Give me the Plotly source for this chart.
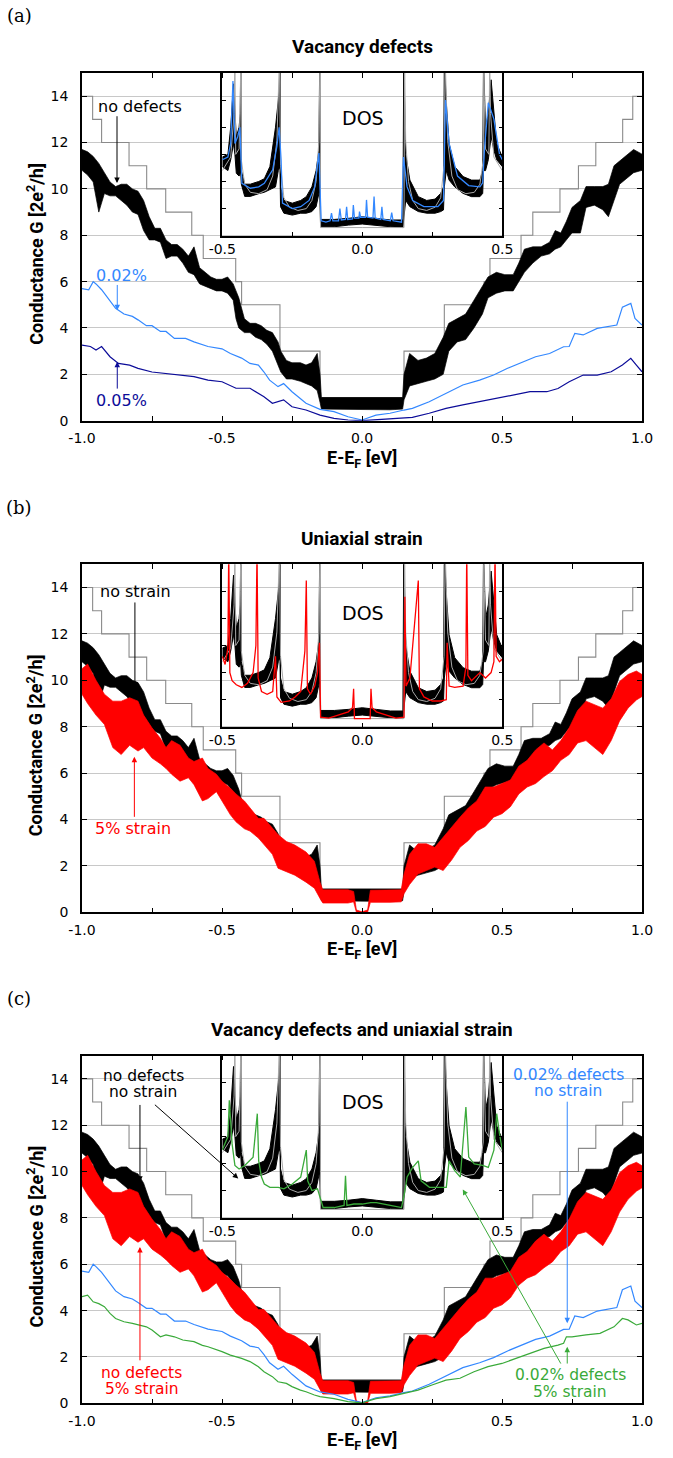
import plotly.graph_objects as go

# ---------------- data ----------------
# ideal quantised conductance (gray staircase)
E_step = [-1.0, -0.962, -0.93, -0.832, -0.769, -0.701, -0.608, -0.567, -0.451, -0.43, -0.293, -0.15,
          0.15, 0.294, 0.436, 0.457, 0.568, 0.61, 0.707, 0.773, 0.835, 0.931, 0.967, 1.0]
G_step = [14, 13, 12, 11, 10, 9, 8, 7, 6, 5, 3, 1, 3, 5, 6, 7, 8, 9, 10, 11, 12, 13, 14, 14]

# no defects / no strain (black, rapidly oscillating -> upper / lower envelope)
E_nd = [-1.0, -0.98, -0.96, -0.94, -0.92, -0.9, -0.88, -0.86, -0.84, -0.82, -0.8, -0.78, -0.76, -0.74,
        -0.72, -0.7, -0.68, -0.66, -0.64, -0.62, -0.6, -0.58, -0.56, -0.54, -0.52, -0.5, -0.48, -0.46,
        -0.45, -0.44, -0.42, -0.4, -0.38, -0.36, -0.34, -0.32, -0.3, -0.29, -0.27, -0.25, -0.22, -0.2,
        -0.18, -0.16, -0.15, -0.145, -0.1, -0.05, 0.0, 0.05, 0.1, 0.145, 0.15, 0.17, 0.2, 0.23, 0.26,
        0.29, 0.31, 0.34, 0.37, 0.4, 0.43, 0.45, 0.48, 0.51, 0.54, 0.56, 0.58, 0.61, 0.64, 0.67, 0.69,
        0.71, 0.73, 0.75, 0.78, 0.8, 0.83, 0.86, 0.88, 0.9, 0.92, 0.94, 0.97, 1.0]
G_nd_hi = [11.7, 11.6, 11.4, 11.1, 10.7, 10.3, 10.1, 10.2, 10.2, 10.0, 9.9, 9.5, 8.8, 8.3,
           8.3, 7.8, 7.6, 7.6, 7.4, 7.1, 7.5, 6.6, 6.4, 6.2, 6.1, 6.1, 6.2, 5.9,
           5.6, 5.3, 4.4, 4.2, 4.2, 4.1, 3.9, 3.8, 3.4, 3.0, 2.6, 2.5, 2.5, 2.4,
           2.5, 2.9, 2.0, 1.0, 1.0, 1.0, 1.0, 1.0, 1.0, 1.0, 2.0, 2.9, 2.6, 2.7, 2.9,
           3.6, 4.2, 4.4, 4.6, 5.2, 5.8, 6.2, 6.4, 6.3, 6.3, 6.8, 7.4, 7.5, 7.5, 7.7, 8.2,
           8.1, 8.6, 9.2, 9.5, 10.1, 10.1, 10.1, 10.2, 11.0, 11.2, 11.4, 11.7, 11.5]
G_nd_lo = [10.8, 10.6, 10.3, 9.0, 9.8, 9.7, 9.7, 9.5, 9.3, 9.0, 8.9, 8.2, 7.8, 7.8,
           7.7, 7.0, 7.1, 7.1, 6.8, 6.4, 6.3, 5.9, 5.8, 5.7, 5.6, 5.6, 5.5, 5.2,
           4.4, 4.0, 3.8, 3.8, 3.6, 3.5, 3.3, 3.0, 2.4, 2.1, 1.8, 1.8, 1.7, 1.6,
           1.5, 1.3, 0.8, 0.5, 0.47, 0.47, 0.47, 0.47, 0.47, 0.5, 0.9, 1.5, 1.6, 1.7, 1.8,
           2.0, 3.0, 3.4, 3.5, 4.0, 4.6, 5.3, 5.5, 5.6, 5.6, 6.0, 6.4, 6.8, 7.1, 7.2, 7.4,
           7.5, 7.8, 8.1, 8.1, 9.2, 9.3, 9.1, 8.8, 9.5, 10.2, 10.4, 10.7, 10.8]

# no defects, 5% strain (red, oscillating -> envelope)
E_st = [-1.0, -0.98, -0.95, -0.92, -0.89, -0.86, -0.83, -0.8, -0.78, -0.75, -0.72, -0.7, -0.68, -0.65,
        -0.62, -0.6, -0.57, -0.55, -0.52, -0.5, -0.47, -0.45, -0.42, -0.4, -0.37, -0.35, -0.32, -0.3,
        -0.27, -0.24, -0.2, -0.17, -0.15, -0.14, -0.1, -0.05, -0.03, -0.02, 0.0, 0.02, 0.03, 0.1, 0.14,
        0.15, 0.17, 0.2, 0.23, 0.26, 0.29, 0.32, 0.35, 0.38, 0.41, 0.44, 0.47, 0.5, 0.53, 0.56, 0.59,
        0.62, 0.65, 0.68, 0.71, 0.74, 0.77, 0.8, 0.83, 0.86, 0.89, 0.92, 0.95, 0.98, 1.0]
G_st_hi = [10.5, 10.7, 10.0, 9.4, 9.1, 9.1, 9.25, 9.1, 8.5, 7.95, 7.5, 7.1, 7.4, 7.2,
           6.65, 6.5, 6.65, 6.2, 5.95, 5.65, 5.35, 5.1, 4.8, 4.5, 4.05, 4.05, 3.6, 3.35,
           3.05, 2.9, 2.6, 2.2, 1.3, 0.97, 0.97, 0.97, 0.9, 0.1, 0.02, 0.1, 0.95, 0.97, 0.97,
           1.65, 2.5, 2.95, 2.95, 2.8, 3.25, 3.7, 4.1, 4.5, 4.8, 5.4, 5.4, 5.55, 5.7, 6.3, 6.55,
           7.0, 7.3, 7.0, 7.4, 7.95, 8.7, 9.1, 8.95, 8.8, 9.2, 9.95, 10.25, 10.4, 10.25]
G_st_lo = [9.4, 9.0, 8.5, 8.1, 7.1, 6.8, 7.2, 6.95, 7.1, 6.65, 6.4, 6.2, 5.95, 5.65,
           5.8, 5.5, 4.8, 4.9, 5.2, 4.8, 4.2, 3.9, 3.6, 3.5, 3.2, 2.9, 2.5, 1.9,
           1.75, 1.6, 1.3, 1.04, 0.6, 0.4, 0.4, 0.4, 0.45, 0.0, 0.0, 0.0, 0.43, 0.43, 0.45,
           0.8, 1.2, 1.65, 1.8, 1.95, 1.8, 2.25, 2.8, 3.1, 3.5, 3.7, 4.1, 4.25, 4.55, 5.1, 5.4,
           5.55, 5.85, 6.1, 6.55, 6.8, 7.3, 7.4, 7.1, 6.8, 7.4, 8.25, 8.8, 9.15, 9.3]

# 0.02 % vacancy defects, no strain (light blue)
E_d02 = [-1.0, -0.976, -0.96, -0.95, -0.93, -0.9, -0.88, -0.85, -0.82, -0.8, -0.77, -0.75, -0.72, -0.7,
         -0.67, -0.63, -0.6, -0.55, -0.5, -0.47, -0.43, -0.4, -0.37, -0.35, -0.33, -0.3, -0.28, -0.25,
         -0.22, -0.2, -0.15, -0.1, -0.05, 0.0, 0.05, 0.1, 0.15, 0.18, 0.24, 0.3, 0.36, 0.42, 0.47, 0.52,
         0.58, 0.62, 0.67, 0.72, 0.74, 0.76, 0.79, 0.84, 0.91, 0.93, 0.96, 0.975, 1.0]
G_d02 = [5.7, 5.65, 6.0, 5.9, 5.65, 5.2, 4.85, 4.6, 4.5, 4.35, 4.1, 4.1, 3.85, 3.85,
         3.55, 3.55, 3.4, 3.2, 3.1, 2.9, 2.7, 2.47, 2.4, 2.1, 1.75, 1.47, 1.6, 1.25,
         0.96, 0.75, 0.49, 0.39, 0.17, 0.03, 0.24, 0.32, 0.46, 0.53, 0.82, 1.18, 1.54, 1.75, 1.97, 2.26,
         2.54, 2.76, 2.9, 3.19, 3.2, 3.77, 3.7, 3.98, 4.13, 4.9, 5.06, 4.41, 4.13]

# 0.05 % vacancy defects (dark blue)
E_d05 = [-1.0, -0.97, -0.95, -0.93, -0.9, -0.87, -0.83, -0.8, -0.75, -0.7, -0.65, -0.6, -0.55, -0.5,
         -0.45, -0.4, -0.35, -0.32, -0.28, -0.25, -0.2, -0.15, -0.1, -0.05, 0.0, 0.05, 0.1, 0.18, 0.24,
         0.3, 0.36, 0.42, 0.48, 0.54, 0.6, 0.66, 0.7, 0.74, 0.79, 0.84, 0.89, 0.93, 0.96, 0.98, 1.0]
G_d05 = [3.26, 3.2, 3.05, 3.2, 2.76, 2.47, 2.4, 2.26, 2.1, 2.04, 1.97, 1.9, 1.75, 1.68,
         1.4, 1.4, 1.03, 0.75, 0.9, 0.6, 0.46, 0.24, 0.1, 0.03, 0.0, 0.03, 0.06, 0.14, 0.32,
         0.53, 0.68, 0.82, 0.96, 1.1, 1.25, 1.25, 1.39, 1.68, 1.97, 1.97, 2.11, 2.4, 2.69, 2.4, 2.11]

# 0.02 % defects + 5 % strain (green)
E_ds = [-1.0, -0.98, -0.96, -0.94, -0.92, -0.9, -0.88, -0.85, -0.82, -0.8, -0.77, -0.75, -0.72, -0.7,
        -0.67, -0.64, -0.6, -0.57, -0.55, -0.5, -0.47, -0.43, -0.4, -0.37, -0.35, -0.32, -0.3, -0.27,
        -0.25, -0.22, -0.2, -0.17, -0.15, -0.1, -0.05, 0.0, 0.05, 0.1, 0.15, 0.2, 0.25, 0.3, 0.35, 0.4,
        0.45, 0.5, 0.55, 0.6, 0.65, 0.7, 0.72, 0.73, 0.75, 0.8, 0.85, 0.9, 0.93, 0.95, 0.98, 1.0]
G_ds = [4.6, 4.67, 4.38, 4.3, 4.17, 3.88, 3.66, 3.52, 3.45, 3.38, 3.3, 3.16, 2.87, 2.95,
        2.87, 2.73, 2.66, 2.5, 2.44, 2.23, 2.08, 1.94, 1.8, 1.58, 1.36, 1.15, 0.93, 0.86,
        0.72, 0.57, 0.5, 0.36, 0.29, 0.2, 0.07, 0.02, 0.2, 0.29, 0.43, 0.57, 0.79, 1.0, 1.08, 1.36,
        1.58, 1.72, 1.94, 2.16, 2.37, 2.51, 2.59, 2.87, 2.87, 2.95, 3.02, 3.3, 3.66, 3.6, 3.38, 3.45]

# ---- DOS insets (arbitrary units, 0..6) ----
E_dos_nd = [-0.5, -0.48, -0.47, -0.46, -0.455, -0.45, -0.44, -0.436, -0.434, -0.432, -0.42, -0.4, -0.37,
            -0.35, -0.33, -0.31, -0.3, -0.296, -0.294, -0.292, -0.28, -0.25, -0.22, -0.2, -0.18, -0.165,
            -0.155, -0.152, -0.149, -0.1, -0.05, 0.0, 0.05, 0.1, 0.145, 0.148, 0.155, 0.17, 0.2, 0.23,
            0.26, 0.28, 0.29, 0.293, 0.3, 0.31, 0.33, 0.36, 0.39, 0.42, 0.43, 0.433, 0.44, 0.45, 0.46,
            0.47, 0.48, 0.5]
D_nd_hi = [2.9, 3.0, 4.0, 5.6, 4.6, 3.65, 4.0, 4.5, 6.5, 2.4, 1.9, 1.9, 2.0,
           2.1, 2.55, 4.0, 5.0, 5.5, 6.5, 1.8, 1.3, 1.2, 1.3, 1.44, 1.8, 2.4,
           3.15, 6.5, 0.6, 0.6, 0.64, 0.7, 0.64, 0.58, 0.58, 6.5, 3.0, 2.05, 1.44, 1.3,
           1.35, 1.56, 1.8, 6.5, 4.9, 3.4, 2.55, 2.18, 2.05, 2.05, 2.4, 6.5, 4.0, 4.5, 5.75,
           4.5, 3.4, 2.9]
D_nd_lo = [2.55, 2.4, 2.8, 3.4, 3.0, 2.3, 2.2, 2.3, 2.3, 1.9, 1.45, 1.45, 1.55,
           1.6, 1.7, 1.8, 2.4, 2.5, 2.5, 1.07, 0.83, 0.76, 0.83, 0.83, 0.89, 1.07,
           1.56, 1.6, 0.33, 0.33, 0.39, 0.43, 0.39, 0.33, 0.3, 0.4, 1.3, 1.07, 0.89, 0.83,
           0.83, 0.89, 0.95, 1.8, 2.4, 2.05, 1.8, 1.56, 1.44, 1.44, 1.56, 2.4, 2.4, 2.8, 3.65,
           3.15, 2.8, 2.55]

E_dos_id = [-0.5, -0.47, -0.458, -0.455, -0.452, -0.44, -0.436, -0.434, -0.432, -0.42, -0.4, -0.37, -0.34,
            -0.32, -0.305, -0.296, -0.292, -0.28, -0.26, -0.23, -0.2, -0.18, -0.165, -0.155, -0.151,
            -0.149, 0.0, 0.149, 0.151, 0.155, 0.165, 0.18, 0.2, 0.23, 0.26, 0.28, 0.292, 0.296, 0.305,
            0.32, 0.34, 0.37, 0.4, 0.42, 0.432, 0.434, 0.436, 0.44, 0.452, 0.455, 0.458, 0.47, 0.5]
D_id = [2.4, 2.9, 4.5, 6.5, 3.0, 3.2, 5.0, 6.5, 2.8, 1.9, 1.6, 1.55, 1.7,
        2.2, 3.5, 6.5, 2.6, 1.4, 1.05, 0.93, 1.0, 1.3, 2.0, 3.5, 6.5,
        0.3, 0.3, 0.3, 6.5, 3.5, 2.0, 1.3, 1.0, 0.93, 1.05, 1.4, 2.6, 6.5, 3.5,
        2.2, 1.7, 1.55, 1.6, 1.9, 2.8, 6.5, 5.0, 3.2, 3.0, 6.5, 4.5, 2.9, 2.4]

E_dos_d02 = [-0.5, -0.48, -0.47, -0.462, -0.455, -0.445, -0.437, -0.43, -0.4, -0.37, -0.35, -0.32, -0.305,
             -0.297, -0.29, -0.285, -0.25, -0.22, -0.19, -0.17, -0.155, -0.147, -0.13, -0.115, -0.11,
             -0.105, -0.085, -0.08, -0.075, -0.06, -0.056, -0.052, -0.035, -0.032, -0.028, -0.012,
             -0.01, -0.006, 0.012, 0.015, 0.019, 0.038, 0.042, 0.046, 0.066, 0.07, 0.074, 0.1, 0.105,
             0.11, 0.14, 0.147, 0.16, 0.18, 0.22, 0.27, 0.29, 0.297, 0.31, 0.34, 0.38, 0.42, 0.43,
             0.437, 0.45, 0.47, 0.49, 0.5]
D_d02 = [2.8, 2.9, 3.4, 5.7, 3.4, 3.65, 4.0, 1.93, 1.75, 1.8, 1.93, 2.43, 3.3,
         4.0, 2.8, 1.2, 1.0, 1.07, 1.3, 1.8, 3.05, 0.55, 0.5, 0.55, 0.83,
         0.55, 0.55, 1.0, 0.58, 0.6, 1.07, 0.6, 0.62, 1.13, 0.65, 0.65,
         0.89, 0.68, 0.68, 1.32, 0.68, 0.65, 1.44, 0.65, 0.6, 1.07, 0.6, 0.55, 0.85,
         0.55, 0.5, 2.9, 1.8, 1.3, 1.07, 1.07, 1.3, 5.0, 3.4, 2.2, 1.85, 1.8, 1.95,
         3.3, 4.9, 4.3, 3.0, 2.8]

E_dos_st = [-0.5, -0.49, -0.48, -0.477, -0.473, -0.465, -0.45, -0.43, -0.41, -0.39, -0.38, -0.376, -0.372,
            -0.36, -0.34, -0.32, -0.31, -0.305, -0.29, -0.26, -0.24, -0.22, -0.205, -0.2, -0.196,
            -0.185, -0.17, -0.16, -0.153, -0.149, -0.12, -0.08, -0.05, -0.035, -0.031, -0.028, 0.0,
            0.028, 0.031, 0.035, 0.05, 0.08, 0.12, 0.149, 0.152, 0.156, 0.17, 0.2, 0.204, 0.22, 0.25,
            0.28, 0.3, 0.303, 0.31, 0.33, 0.36, 0.37, 0.373, 0.377, 0.39, 0.42, 0.44, 0.46, 0.47,
            0.474, 0.478, 0.49, 0.5]
D_st = [2.6, 2.3, 2.9, 6.5, 2.0, 1.7, 1.55, 1.45, 1.6, 2.0, 3.0, 6.5, 1.8,
        1.3, 1.2, 1.3, 2.6, 1.1, 0.9, 0.95, 1.1, 1.3, 2.8, 5.4, 1.4,
        1.2, 1.5, 2.0, 3.1, 0.35, 0.32, 0.45, 0.55, 0.7, 1.4, 0.3, 0.3,
        0.3, 1.4, 0.7, 0.55, 0.45, 0.32, 0.35, 4.8, 1.5, 1.8, 5.4, 1.4, 1.1, 0.95,
        0.95, 1.0, 3.1, 1.5, 1.45, 1.5, 2.2, 6.5, 1.9, 1.7, 2.0, 1.8, 2.0, 2.4,
        6.5, 2.6, 2.4, 2.5]

E_dos_ds = [-0.5, -0.48, -0.475, -0.465, -0.455, -0.44, -0.42, -0.39, -0.375, -0.37, -0.36, -0.35, -0.33,
            -0.3, -0.28, -0.25, -0.22, -0.2, -0.195, -0.18, -0.16, -0.15, -0.14, -0.1, -0.065, -0.06,
            -0.055, -0.03, 0.0, 0.03, 0.05, 0.1, 0.14, 0.15, 0.16, 0.18, 0.2, 0.21, 0.24, 0.28, 0.3,
            0.31, 0.33, 0.35, 0.37, 0.38, 0.4, 0.43, 0.45, 0.47, 0.48, 0.49, 0.5]
D_ds = [2.5, 3.0, 4.35, 2.73, 1.93, 1.8, 1.93, 2.24, 3.85, 2.1, 1.5, 1.24, 1.12,
        1.12, 1.06, 1.24, 1.5, 2.5, 1.36, 1.0, 1.06, 0.75, 0.37, 0.37, 0.45, 1.55,
        0.45, 0.5, 0.5, 0.55, 0.55, 0.45, 0.37, 0.87, 1.5, 1.86, 2.1, 1.36, 1.12, 1.12, 1.12,
        2.1, 1.74, 1.5, 4.1, 2.24, 1.99, 1.93, 1.86, 2.5, 3.85, 3.1, 2.5]

# tick labels
X_MAIN_TICKS = [-1.0, -0.5, 0.0, 0.5, 1.0]
X_MAIN_TEXT = ["-1.0", "-0.5", "0.0", "0.5", "1.0"]
X_MAIN_MINOR = [-0.75, -0.25, 0.25, 0.75]
X_INS_TICKS = [-0.5, 0.0, 0.5]
X_INS_TEXT = ["-0.5", "0.0", "0.5"]
X_INS_MINOR = [-0.25, 0.25]
Y_MAIN_TICKS = [0, 2, 4, 6, 8, 10, 12, 14]

# ---------------- styling / layout ----------------
W, H = 673, 1458
BLACK = "#000000"
GRAY = "#8a8a8a"
BLUE = "#3388ff"
NAVY = "#0c0c99"
RED = "#ff0000"
GREEN = "#3aaa3a"
TICKFONT = dict(family="DejaVu Sans", size=14, color="black")
ANNFONT = "DejaVu Sans"


def PX(px):
    return px / W


def PY(py):
    return 1 - py / H


main_top = [73.0, 564.3, 1055.7]
main_bot = [420.7, 912.3, 1403.3]
ins_bot = [235.7, 726.7, 1217.5]

fig = go.Figure()


def ax(i, main):
    n = 2 * i + (1 if main else 2)
    return ("x" if n == 1 else f"x{n}"), ("y" if n == 1 else f"y{n}")


def band(E, hi, lo, color, i, main=True, lw=0.8):
    xa, ya = ax(i, main)
    fig.add_trace(go.Scatter(x=list(E) + list(E)[::-1], y=list(hi) + list(lo)[::-1],
                             fill="toself", fillcolor=color, mode="lines",
                             line=dict(color=color, width=lw), xaxis=xa, yaxis=ya,
                             showlegend=False, hoverinfo="skip"))


def line(E, v, color, i, main=True, w=1.2, shape="linear"):
    xa, ya = ax(i, main)
    fig.add_trace(go.Scatter(x=E, y=v, mode="lines", line=dict(color=color, width=w, shape=shape),
                             xaxis=xa, yaxis=ya, showlegend=False, hoverinfo="skip"))


for i in range(3):
    line(E_step, G_step, GRAY, i, w=1.1, shape="hv")
    band(E_nd, G_nd_hi, G_nd_lo, BLACK, i, lw=0.7)
    if i == 0:
        line(E_d02, G_d02, BLUE, i)
        line(E_d05, G_d05, NAVY, i)
    elif i == 1:
        band(E_st, G_st_hi, G_st_lo, RED, i, lw=0.7)
    else:
        band(E_st, G_st_hi, G_st_lo, RED, i, lw=0.7)
        line(E_d02, G_d02, BLUE, i)
        line(E_ds, G_ds, GREEN, i)
    # inset
    band(E_dos_nd, D_nd_hi, D_nd_lo, BLACK, i, main=False, lw=1.0)
    line(E_dos_id, D_id, "#a8a8a8", i, main=False, w=1.0)
    if i == 0:
        line(E_dos_d02, D_d02, BLUE, i, main=False, w=1.3)
    elif i == 1:
        line(E_dos_st, D_st, RED, i, main=False, w=1.3)
    else:
        line(E_dos_ds, D_ds, GREEN, i, main=False, w=1.3)

layout = dict(width=W, height=H, margin=dict(l=0, r=0, t=0, b=0, autoexpand=False),
              paper_bgcolor="white", plot_bgcolor="rgba(0,0,0,0)", showlegend=False)

for i in range(3):
    n1, n2 = 2 * i + 1, 2 * i + 2
    k1 = "xaxis" if n1 == 1 else f"xaxis{n1}"
    y1 = "yaxis" if n1 == 1 else f"yaxis{n1}"
    yr1 = "y" if n1 == 1 else f"y{n1}"
    xr1 = "x" if n1 == 1 else f"x{n1}"
    layout[k1] = dict(domain=[PX(82), PX(642)], range=[-1, 1], anchor=yr1, automargin=False,
                      tickmode="array", tickvals=X_MAIN_TICKS, ticktext=X_MAIN_TEXT,
                      minor=dict(tickmode="array", tickvals=X_MAIN_MINOR, ticks="inside", ticklen=5,
                                 tickwidth=1, tickcolor="black", showgrid=False),
                      ticks="inside", ticklen=5, tickwidth=1, tickcolor="black",
                      showline=True, linecolor="black", linewidth=1.5, mirror="ticks",
                      showgrid=False, zeroline=False, tickfont=TICKFONT, ticklabelstandoff=4)
    layout[y1] = dict(domain=[PY(main_bot[i]), PY(main_top[i])], range=[0, 15], anchor=xr1,
                      automargin=False, tickmode="array", tickvals=Y_MAIN_TICKS,
                      ticks="inside", ticklen=5, tickwidth=1, tickcolor="black",
                      showline=True, linecolor="black", linewidth=1.5, mirror="ticks",
                      showgrid=True, gridcolor="#c8c8c8", gridwidth=1, zeroline=False,
                      tickfont=TICKFONT, ticklabelstandoff=9)
    layout[f"xaxis{n2}"] = dict(domain=[PX(222.3), PX(502.3)], range=[-0.5, 0.5], anchor=f"y{n2}",
                                automargin=False, tickmode="array", tickvals=X_INS_TICKS,
                                ticktext=X_INS_TEXT,
                                minor=dict(tickmode="array", tickvals=X_INS_MINOR, ticks="inside",
                                           ticklen=4, tickwidth=1, tickcolor="black", showgrid=False),
                                ticks="inside", ticklen=4, tickwidth=1, tickcolor="black",
                                showline=True, linecolor="black", linewidth=1.5, mirror="ticks",
                                showgrid=False, zeroline=False, tickfont=TICKFONT)
    layout[f"yaxis{n2}"] = dict(domain=[PY(ins_bot[i]), PY(main_top[i])], range=[0, 6], anchor=f"x{n2}",
                                automargin=False, tickmode="array", tickvals=[1, 2, 3, 4, 5],
                                showticklabels=False,
                                ticks="inside", ticklen=4, tickwidth=1, tickcolor="black",
                                showline=True, linecolor="black", linewidth=1.5, mirror="ticks",
                                showgrid=False, zeroline=False)

anns = []
panel_labels = ["(a)", "(b)", "(c)"]
titles = ["Vacancy defects", "Uniaxial strain", "Vacancy defects and uniaxial strain"]


def paper_text(s, px, py, font, angle=0):
    anns.append(dict(text=s, x=PX(px), y=PY(py), xref="paper", yref="paper", xanchor="center",
                     yanchor="middle", textangle=angle, showarrow=False, font=font))


for i in range(3):
    top, bot = main_top[i], main_bot[i]
    paper_text(panel_labels[i], 19, top - 57, dict(family="DejaVu Serif", size=18, color="black"))
    paper_text("<b>" + titles[i] + "</b>", 362, top - 26, dict(family="Roboto", size=19, color="black"))
    paper_text("<b>Conductance G [2e<sup>2</sup>/h]</b>", 35, (top + bot) / 2 + 7,
               dict(family="Roboto", size=18, color="black"), angle=-90)
    paper_text("<b>E-E<sub>F</sub> [eV]</b>", 362, bot + 38, dict(family="Roboto", size=18, color="black"))
    paper_text("DOS", 362.5, [118, 613, 1102][i], dict(family=ANNFONT, size=19, color="black"))


def txt(s, x, y, color, axn, size=16):
    xr = "x" if axn == 1 else f"x{axn}"
    yr = "y" if axn == 1 else f"y{axn}"
    anns.append(dict(text=s, x=x, y=y, xref=xr, yref=yr, xanchor="center", yanchor="middle",
                     showarrow=False, font=dict(family=ANNFONT, size=size, color=color)))


def arrow(x0, y0, x1, y1, color, axn):
    xr = "x" if axn == 1 else f"x{axn}"
    yr = "y" if axn == 1 else f"y{axn}"
    anns.append(dict(text="", x=x1, y=y1, ax=x0, ay=y0, xref=xr, yref=yr, axref=xr, ayref=yr,
                     showarrow=True, arrowhead=2, arrowsize=1.1, arrowwidth=1, arrowcolor=color,
                     standoff=0, startstandoff=0))


# panel (a)
txt("no defects", -0.793, 13.54, BLACK, 1)
arrow(-0.875, 13.2, -0.875, 10.25, BLACK, 1)
txt("0.02%", -0.859, 6.28, BLUE, 1)
arrow(-0.874, 5.92, -0.874, 4.77, BLUE, 1)
txt("0.05%", -0.859, 0.89, NAVY, 1)
arrow(-0.874, 1.32, -0.874, 2.54, NAVY, 1)
# panel (b)
txt("no strain", -0.81, 13.81, BLACK, 3)
arrow(-0.811, 13.42, -0.811, 9.68, BLACK, 3)
txt("5% strain", -0.819, 3.6, RED, 3)
arrow(-0.813, 4.05, -0.813, 6.71, RED, 3)
# panel (c)
txt("no defects", -0.781, 14.14, BLACK, 5, 15.5)
txt("no strain", -0.781, 13.44, BLACK, 5, 15.5)
arrow(-0.793, 12.94, -0.793, 9.56, BLACK, 5)
arrow(-0.745, 12.94, -0.442, 9.70, BLACK, 5)
txt("no defects", -0.787, 1.32, RED, 5, 15.5)
txt("5% strain", -0.787, 0.6, RED, 5, 15.5)
arrow(-0.793, 1.79, -0.793, 6.75, RED, 5)
txt("0.02% defects", 0.737, 14.18, BLUE, 5, 15.5)
txt("no strain", 0.737, 13.46, BLUE, 5, 15.5)
arrow(0.733, 13.08, 0.733, 3.45, BLUE, 5)
txt("0.02% defects", 0.743, 1.2, GREEN, 5, 15.5)
txt("5% strain", 0.743, 0.5, GREEN, 5, 15.5)
arrow(0.733, 1.65, 0.733, 2.44, GREEN, 5)
arrow(0.713, 1.65, 0.36, 9.23, GREEN, 5)

layout["annotations"] = anns
fig.update_layout(**layout)
fig.write_html("out.html")
